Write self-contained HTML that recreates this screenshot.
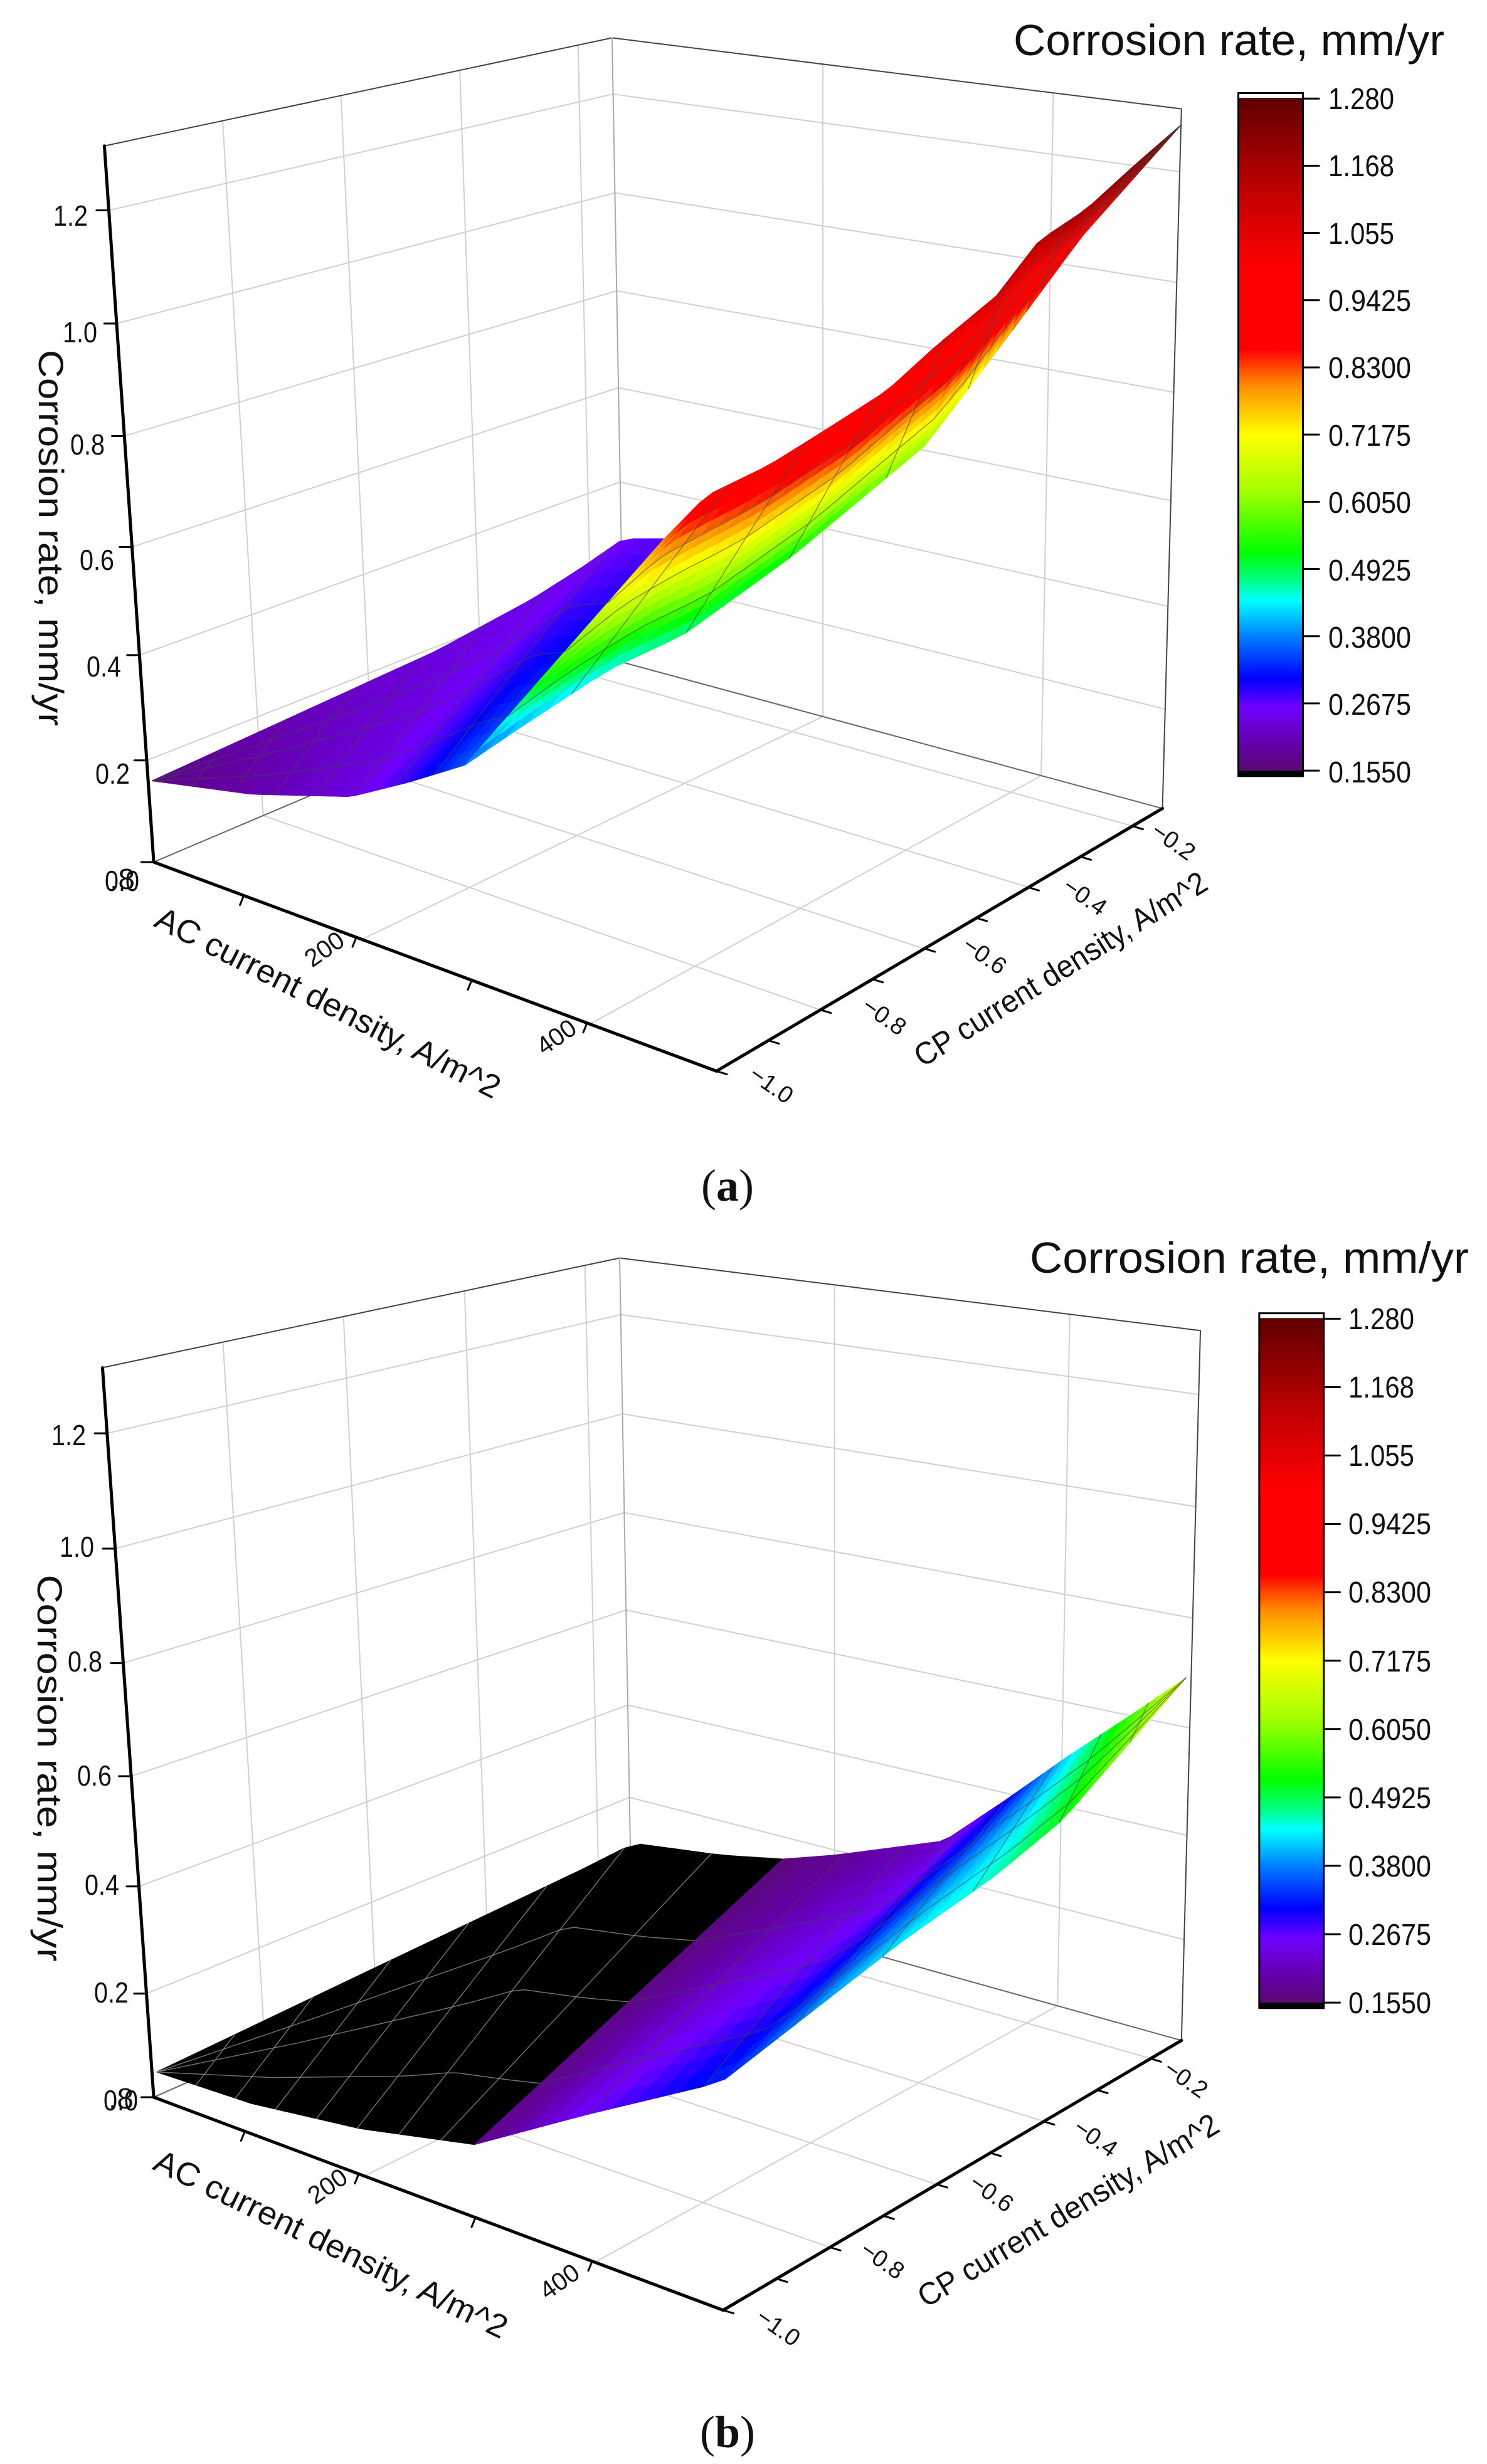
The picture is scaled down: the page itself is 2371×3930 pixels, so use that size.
<!DOCTYPE html>
<html><head><meta charset="utf-8">
<style>
html,body{margin:0;padding:0;background:#fff;}
#wrap{position:relative;width:2371px;height:3930px;overflow:hidden;background:#fff;}
.g{position:absolute;left:0;width:2371px;height:1965px;}
#txt{position:absolute;left:0;top:0;width:2371px;height:3930px;}
text{font-family:"Liberation Sans",Arial,sans-serif;fill:#111;}
</style></head>
<body>
<div id="wrap">
<svg id="ga" class="g" style="top:0" viewBox="0 0 1567 1562" preserveAspectRatio="none" xmlns="http://www.w3.org/2000/svg"></svg>
<svg id="gb" class="g" style="top:1965px" viewBox="0 0 1567 1562" preserveAspectRatio="none" xmlns="http://www.w3.org/2000/svg"></svg>
<svg id="txt" viewBox="0 0 2371 3930" xmlns="http://www.w3.org/2000/svg">
<!-- Panel a -->
<text x="1616" y="88" font-size="70" textLength="687" lengthAdjust="spacingAndGlyphs">Corrosion rate, mm/yr</text>
<g font-size="48">
<text x="2118" y="174" textLength="105" lengthAdjust="spacingAndGlyphs">1.280</text>
<text x="2118" y="281" textLength="105" lengthAdjust="spacingAndGlyphs">1.168</text>
<text x="2118" y="389" textLength="105" lengthAdjust="spacingAndGlyphs">1.055</text>
<text x="2118" y="496" textLength="132" lengthAdjust="spacingAndGlyphs">0.9425</text>
<text x="2118" y="603" textLength="132" lengthAdjust="spacingAndGlyphs">0.8300</text>
<text x="2118" y="711" textLength="132" lengthAdjust="spacingAndGlyphs">0.7175</text>
<text x="2118" y="818" textLength="132" lengthAdjust="spacingAndGlyphs">0.6050</text>
<text x="2118" y="926" textLength="132" lengthAdjust="spacingAndGlyphs">0.4925</text>
<text x="2118" y="1033" textLength="132" lengthAdjust="spacingAndGlyphs">0.3800</text>
<text x="2118" y="1140" textLength="132" lengthAdjust="spacingAndGlyphs">0.2675</text>
<text x="2118" y="1248" textLength="132" lengthAdjust="spacingAndGlyphs">0.1550</text>
</g>
<g font-size="46" text-anchor="end">
<text x="140" y="360" textLength="55" lengthAdjust="spacingAndGlyphs">1.2</text>
<text x="155" y="546" textLength="55" lengthAdjust="spacingAndGlyphs">1.0</text>
<text x="167" y="725" textLength="55" lengthAdjust="spacingAndGlyphs">0.8</text>
<text x="182" y="909" textLength="55" lengthAdjust="spacingAndGlyphs">0.6</text>
<text x="193" y="1079" textLength="55" lengthAdjust="spacingAndGlyphs">0.4</text>
<text x="207" y="1250" textLength="55" lengthAdjust="spacingAndGlyphs">0.2</text>
<text x="222" y="1421" textLength="55" lengthAdjust="spacingAndGlyphs">0.0</text>
<text x="215" y="1418" textLength="40" lengthAdjust="spacingAndGlyphs">.8</text>
</g>
<text transform="translate(62,858) rotate(90)" font-size="56" text-anchor="middle" textLength="600" lengthAdjust="spacingAndGlyphs">Corrosion rate, mm/yr</text>
<text transform="translate(515,1615) rotate(27)" font-size="52" text-anchor="middle" textLength="610" lengthAdjust="spacingAndGlyphs">AC current density, A/m^2</text>
<text transform="translate(525,1525) rotate(-35)" font-size="40" text-anchor="middle">200</text>
<text transform="translate(895,1665) rotate(-35)" font-size="40" text-anchor="middle">400</text>
<g font-size="38">
<text transform="translate(1833,1331) rotate(35)">−0.2</text>
<text transform="translate(1692,1419) rotate(35)">−0.4</text>
<text transform="translate(1532,1513) rotate(35)">−0.6</text>
<text transform="translate(1372,1610) rotate(35)">−0.8</text>
<text transform="translate(1192,1719) rotate(35)">−1.0</text>
</g>
<text transform="translate(1700,1560) rotate(-32)" font-size="50" text-anchor="middle" textLength="540" lengthAdjust="spacingAndGlyphs">CP current density, A/m^2</text>
<text x="1160" y="1915" font-size="72" text-anchor="middle" style="font-family:'Liberation Serif',serif">(<tspan font-weight="bold">a</tspan>)</text>

<!-- Panel b -->
<text x="1642" y="2030" font-size="70" textLength="700" lengthAdjust="spacingAndGlyphs">Corrosion rate, mm/yr</text>
<g font-size="48">
<text x="2150" y="2120" textLength="105" lengthAdjust="spacingAndGlyphs">1.280</text>
<text x="2150" y="2229" textLength="105" lengthAdjust="spacingAndGlyphs">1.168</text>
<text x="2150" y="2338" textLength="105" lengthAdjust="spacingAndGlyphs">1.055</text>
<text x="2150" y="2447" textLength="132" lengthAdjust="spacingAndGlyphs">0.9425</text>
<text x="2150" y="2556" textLength="132" lengthAdjust="spacingAndGlyphs">0.8300</text>
<text x="2150" y="2666" textLength="132" lengthAdjust="spacingAndGlyphs">0.7175</text>
<text x="2150" y="2775" textLength="132" lengthAdjust="spacingAndGlyphs">0.6050</text>
<text x="2150" y="2884" textLength="132" lengthAdjust="spacingAndGlyphs">0.4925</text>
<text x="2150" y="2993" textLength="132" lengthAdjust="spacingAndGlyphs">0.3800</text>
<text x="2150" y="3102" textLength="132" lengthAdjust="spacingAndGlyphs">0.2675</text>
<text x="2150" y="3211" textLength="132" lengthAdjust="spacingAndGlyphs">0.1550</text>
</g>
<g font-size="46" text-anchor="end">
<text x="137" y="2305" textLength="55" lengthAdjust="spacingAndGlyphs">1.2</text>
<text x="150" y="2483" textLength="55" lengthAdjust="spacingAndGlyphs">1.0</text>
<text x="163" y="2666" textLength="55" lengthAdjust="spacingAndGlyphs">0.8</text>
<text x="178" y="2848" textLength="55" lengthAdjust="spacingAndGlyphs">0.6</text>
<text x="190" y="3022" textLength="55" lengthAdjust="spacingAndGlyphs">0.4</text>
<text x="205" y="3194" textLength="55" lengthAdjust="spacingAndGlyphs">0.2</text>
<text x="220" y="3366" textLength="55" lengthAdjust="spacingAndGlyphs">0.0</text>
<text x="213" y="3363" textLength="40" lengthAdjust="spacingAndGlyphs">.8</text>
</g>
<text transform="translate(60,2820) rotate(90)" font-size="56" text-anchor="middle" textLength="617" lengthAdjust="spacingAndGlyphs">Corrosion rate, mm/yr</text>
<text transform="translate(520,3595) rotate(26)" font-size="52" text-anchor="middle" textLength="620" lengthAdjust="spacingAndGlyphs">AC current density, A/m^2</text>
<text transform="translate(530,3498) rotate(-35)" font-size="40" text-anchor="middle">200</text>
<text transform="translate(900,3650) rotate(-35)" font-size="40" text-anchor="middle">400</text>
<g font-size="38">
<text transform="translate(1853,3305) rotate(35)">−0.2</text>
<text transform="translate(1709,3399) rotate(35)">−0.4</text>
<text transform="translate(1543,3487) rotate(35)">−0.6</text>
<text transform="translate(1369,3594) rotate(35)">−0.8</text>
<text transform="translate(1203,3701) rotate(35)">−1.0</text>
</g>
<text transform="translate(1712,3540) rotate(-31)" font-size="50" text-anchor="middle" textLength="550" lengthAdjust="spacingAndGlyphs">CP current density, A/m^2</text>
<text x="1160" y="3903" font-size="72" text-anchor="middle" style="font-family:'Liberation Serif',serif">(<tspan font-weight="bold">b</tspan>)</text>
</svg>
</div>
<script>
(function(){
var NS="http://www.w3.org/2000/svg";
var stops=[[0.155,[90,10,120]],[0.2,[100,0,170]],[0.26,[112,0,255]],[0.31,[0,0,255]],[0.38,[0,128,255]],[0.44,[0,255,255]],[0.475,[0,255,128]],[0.52,[0,255,0]],[0.62,[160,255,0]],[0.7175,[255,255,0]],[0.8,[255,140,0]],[0.86,[255,0,0]],[1.0,[255,0,0]],[1.13,[190,0,0]],[1.28,[96,0,0]]];
function cmap(z){
 if(z<0.155) return "rgb(0,0,0)";
 if(z>=1.28) return "rgb(96,0,0)";
 for(var i=0;i<stops.length-1;i++){var a=stops[i],b=stops[i+1];
  if(z>=a[0]&&z<=b[0]){var t=(z-a[0])/(b[0]-a[0]);
   return "rgb("+[0,1,2].map(function(k){return Math.round(a[1][k]+(b[1][k]-a[1][k])*t);}).join(",")+")";}}
 return "#000";}
function el(svg,tag,attrs){var e=document.createElementNS(NS,tag);for(var k in attrs)e.setAttribute(k,attrs[k]);svg.appendChild(e);return e;}
function lp(a,b,t){return [a[0]+(b[0]-a[0])*t,a[1]+(b[1]-a[1])*t];}
function line(svg,p,q,col,w){el(svg,"line",{x1:p[0],y1:p[1],x2:q[0],y2:q[1],stroke:col,"stroke-width":w,"vector-effect":"non-scaling-stroke","stroke-linecap":"round"});}
function resample(ch,n){
 var L=[0];for(var i=1;i<ch.length;i++){L.push(L[i-1]+Math.hypot(ch[i][0]-ch[i-1][0],ch[i][1]-ch[i-1][1]));}
 var T=L[L.length-1],out=[];
 for(var k=0;k<n;k++){var d=T*k/(n-1),j=1;while(j<ch.length-1&&L[j]<d)j++;
  var seg=L[j]-L[j-1],t=seg>0?(d-L[j-1])/seg:0;if(t>1)t=1;
  out.push([ch[j-1][0]+(ch[j][0]-ch[j-1][0])*t,ch[j-1][1]+(ch[j][1]-ch[j-1][1])*t,ch[j-1][2]+(ch[j][2]-ch[j-1][2])*t]);}
 return out;}
function strip(svg,up,lo,mesh){
 var N=40,M=14,U=resample(up,N),D=resample(lo,N);
 function P(i,j){var t=j/M;return [U[i][0]+(D[i][0]-U[i][0])*t,U[i][1]+(D[i][1]-U[i][1])*t,U[i][2]+(D[i][2]-U[i][2])*t];}
 for(var i=0;i<N-1;i++)for(var j=0;j<M;j++){
  var a=P(i,j),b=P(i+1,j),c=P(i+1,j+1),d=P(i,j+1),z=(a[2]+b[2]+c[2]+d[2])/4,col=cmap(z);
  el(svg,"polygon",{points:[a,b,c,d].map(function(p){return p[0]+","+p[1];}).join(" "),fill:col,stroke:col,"stroke-width":1.2,"vector-effect":"non-scaling-stroke"});}
 var mc=mesh||"rgba(70,70,70,0.55)";
 [Math.round(M/4),Math.round(M/2),Math.round(3*M/4)].forEach(function(j){
  var pts=[];for(var i=0;i<N;i++){var p=P(i,j);pts.push(p[0]+","+p[1]);}
  el(svg,"polyline",{points:pts.join(" "),fill:"none",stroke:mc,"stroke-width":1.5,"vector-effect":"non-scaling-stroke"});});
 for(var i=5;i<N-1;i+=5){var p=P(i,0),q=P(i,M);line(svg,p,q,mc,1.5);}
}
function panel(svg,c){
 var L=c.L,Lt=c.Lt,B=c.B,Bt=c.Bt,R=c.R,Rt=c.Rt,F=c.F,g="#d0d0d0";
 var H=[0.142,0.289,0.44,0.595,0.752,0.91];
 H.forEach(function(h){line(svg,lp(L,Lt,h),lp(B,Bt,h),g,2);line(svg,lp(B,Bt,h),lp(R,Rt,h),g,2);});
 [0.233,0.466,0.7,0.933].forEach(function(v){line(svg,lp(L,B,v),lp(Lt,Bt,v),g,2);line(svg,lp(L,B,v),lp(F,R,v),g,2);});
 [0.37,0.775].forEach(function(u){line(svg,lp(B,R,u),lp(Bt,Rt,u),g,2);line(svg,lp(L,F,u),lp(B,R,u),g,2);});
 line(svg,Lt,Bt,"#444",2);line(svg,Bt,Rt,"#444",2);line(svg,B,Bt,"#aaa",2);line(svg,R,Rt,"#444",2);
 line(svg,L,B,"#666",2);line(svg,B,R,"#666",2);
 c.strips.forEach(function(s){strip(svg,s[0],s[1],s[2]);});
 line(svg,L,Lt,"#000",5);line(svg,L,F,"#000",5);line(svg,F,R,"#000",5);
 [0].concat(H).forEach(function(h){var p=lp(L,Lt,h);line(svg,p,[p[0]-13,p[1]],"#000",3);});
 [0.16,0.36,0.565,0.77].forEach(function(u){var p=lp(L,F,u);line(svg,p,[p[0]-4,p[1]+12],"#000",3);});
 for(var k=0;k<=8;k++){var p=lp(F,R,k*0.1166);line(svg,p,[p[0]+11,p[1]+4],"#000",3);}
 var cb=c.cb,x0=cb[0],x1=cb[1],y0=cb[2],y1=cb[3];
 var id="gr"+svg.id,defs=el(svg,"defs",{}),lg=document.createElementNS(NS,"linearGradient");
 lg.setAttribute("id",id);lg.setAttribute("x1","0");lg.setAttribute("y1","0");lg.setAttribute("x2","0");lg.setAttribute("y2","1");defs.appendChild(lg);
 for(var i=stops.length-1;i>=0;i--){var s=document.createElementNS(NS,"stop");s.setAttribute("offset",((1.28-stops[i][0])/1.125).toFixed(4));s.setAttribute("stop-color","rgb("+stops[i][1].join(",")+")");lg.appendChild(s);}
 el(svg,"rect",{x:x0,y:y0-7,width:x1-x0,height:7,fill:"#fff",stroke:"#000","stroke-width":2,"vector-effect":"non-scaling-stroke"});
 el(svg,"rect",{x:x0,y:y0,width:x1-x0,height:y1-y0,fill:"url(#"+id+")"});
 el(svg,"rect",{x:x0,y:y1,width:x1-x0,height:7,fill:"#000"});
 el(svg,"rect",{x:x0,y:y0-7,width:x1-x0,height:y1-y0+14,fill:"none",stroke:"#000","stroke-width":3,"vector-effect":"non-scaling-stroke"});
 for(var k=0;k<=10;k++){var y=y0+(y1-y0)*k/10;line(svg,[x1,y],[x1+17,y],"#000",3);}
}
panel(document.getElementById("ga"),{
 L:[162,1093],Lt:[110,185],B:[657,840],Bt:[645,48],R:[1225,1025],Rt:[1245,138],F:[755,1358],
 cb:[1305,1373,125,977],
 strips:[
  [[[160,990,0.17],[260,935,0.2],[360,880,0.22],[460,825,0.235],[560,760,0.245],[610,722,0.25],[657,683,0.26],[700,683,0.27]],
   [[160,990,0.17],[265,1007,0.2],[370,1010,0.24],[430,992,0.29],[490,970,0.36]]],
  [[[700,683,0.8],[745,628,0.92],[810,590,0.96],[870,545,0.99],[935,495,1.02],[985,440,1.05],[1050,375,1.1],[1095,305,1.15],[1145,265,1.18],[1195,210,1.22],[1245,158,1.28]],
   [[490,970,0.36],[545,925,0.4],[640,850,0.44],[720,805,0.47],[835,705,0.52],[975,565,0.62],[1060,430,0.76],[1140,300,0.97],[1245,158,1.28]]]
 ]});
panel(document.getElementById("gb"),{
 L:[162,1097],Lt:[108,172],B:[665,830],Bt:[653,33],R:[1245,1025],Rt:[1265,125],F:[762,1367],
 cb:[1327,1395,110,977],
 strips:[
  [[[165,1065,0.1],[400,930,0.1],[610,810,0.1],[668,775,0.1],[760,790,0.1],[825,795,0.1]],
   [[165,1065,0.1],[265,1105,0.1],[380,1137,0.1],[500,1157,0.1]],"rgba(140,140,140,0.8)"],
  [[[825,795,0.16],[880,790,0.18],[995,772,0.22],[1060,720,0.3],[1125,665,0.42],[1195,610,0.56],[1250,565,0.68]],
   [[500,1157,0.17],[615,1120,0.26],[760,1078,0.33],[870,975,0.4],[950,900,0.43],[1050,815,0.46],[1120,745,0.52],[1185,655,0.6],[1250,565,0.68]]]
 ]});
})();
</script>
</body></html>
